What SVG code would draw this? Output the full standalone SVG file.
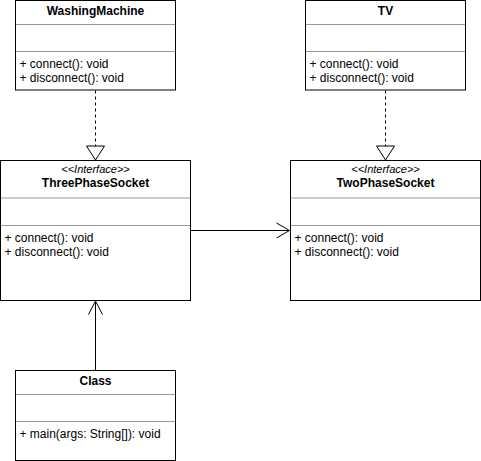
<svg xmlns="http://www.w3.org/2000/svg" width="481" height="461" viewBox="0 0 481 461">
<style>
.box{fill:#ffffff;stroke:#000000;stroke-width:1}
.sep{stroke:#999999;stroke-width:1}
.t{font-family:"Liberation Sans",Arial,sans-serif;font-size:12px;fill:#000000}
.title{font-weight:bold;text-anchor:middle}
.st{font-size:11px;font-style:italic;text-anchor:middle}
.edge{fill:none;stroke:#000000;stroke-width:1}
.dash{stroke-dasharray:3 3}
</style>
<rect x="0" y="0" width="481" height="461" fill="#ffffff"/>
<g id="connectors">
  <path class="edge dash" d="M95.5 90.5 V146"/>
  <path class="edge" d="M86.5 146 H104.5 L95.5 160 Z"/>
  <path class="edge dash" d="M385.5 90.5 V146"/>
  <path class="edge" d="M376.5 146 H394.5 L385.5 160 Z"/>
  <path class="edge" d="M190.5 230.5 H289.5"/>
  <path class="edge" d="M276.5 223 L289.5 230.5 L276.5 238"/>
  <path class="edge" d="M95.5 370.5 V301"/>
  <path class="edge" d="M88.5 314.5 L95.5 301 L102.5 314.5"/>
</g>
<g id="WashingMachine">
  <rect class="box" x="15.5" y="0.5" width="160" height="89.5"/>
  <line class="sep" x1="16" y1="24.5" x2="175" y2="24.5"/>
  <line class="sep" x1="16" y1="51.5" x2="175" y2="51.5"/>
  <text class="t title" x="95.5" y="15">WashingMachine</text>
  <text class="t" x="19.5" y="68">+ connect(): void</text>
  <text class="t" x="19.5" y="82">+ disconnect(): void</text>
</g>
<g id="TV">
  <rect class="box" x="305.5" y="0.5" width="160" height="89.5"/>
  <line class="sep" x1="306" y1="24.5" x2="465" y2="24.5"/>
  <line class="sep" x1="306" y1="51.5" x2="465" y2="51.5"/>
  <text class="t title" x="385.5" y="15">TV</text>
  <text class="t" x="309.5" y="68">+ connect(): void</text>
  <text class="t" x="309.5" y="82">+ disconnect(): void</text>
</g>
<g id="ThreePhaseSocket">
  <rect class="box" x="0.5" y="160.5" width="190" height="140"/>
  <line class="sep" x1="1" y1="198" x2="190" y2="198"/>
  <line class="sep" x1="1" y1="225.5" x2="190" y2="225.5"/>
  <text class="t st" x="95.5" y="173">&lt;&lt;Interface&gt;&gt;</text>
  <text class="t title" x="95.5" y="187">ThreePhaseSocket</text>
  <text class="t" x="4.5" y="242">+ connect(): void</text>
  <text class="t" x="4.5" y="256">+ disconnect(): void</text>
</g>
<g id="TwoPhaseSocket">
  <rect class="box" x="290.5" y="160.5" width="190" height="140"/>
  <line class="sep" x1="291" y1="198" x2="480" y2="198"/>
  <line class="sep" x1="291" y1="225.5" x2="480" y2="225.5"/>
  <text class="t st" x="385.5" y="173">&lt;&lt;Interface&gt;&gt;</text>
  <text class="t title" x="385.5" y="187">TwoPhaseSocket</text>
  <text class="t" x="294.5" y="242">+ connect(): void</text>
  <text class="t" x="294.5" y="256">+ disconnect(): void</text>
</g>
<g id="Class">
  <rect class="box" x="15.5" y="370.5" width="160" height="90"/>
  <line class="sep" x1="16" y1="394.5" x2="175" y2="394.5"/>
  <line class="sep" x1="16" y1="421.5" x2="175" y2="421.5"/>
  <text class="t title" x="95.5" y="385">Class</text>
  <text class="t" x="19.5" y="438">+ main(args: String[]): void</text>
</g>
</svg>
